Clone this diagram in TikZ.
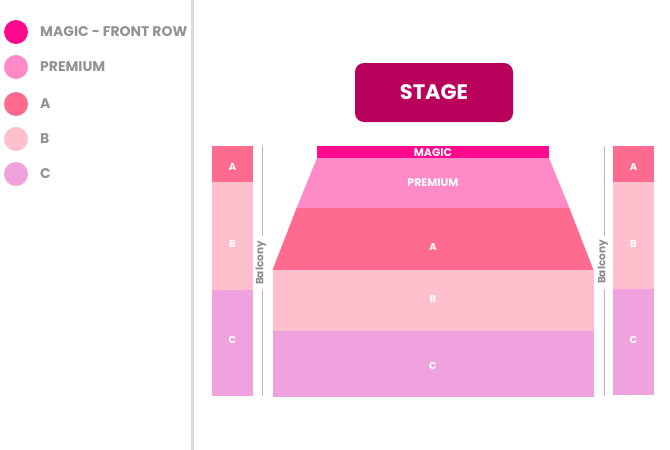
\documentclass[tikz,border=0pt]{standalone}
\usepackage{fontspec}
\setmainfont{Poppins}
\begin{document}
\begin{tikzpicture}[x=1pt,y=-1pt,
  legtxt/.style={anchor=west,text=gray!85,font=\fontsize{14}{14}\selectfont\bfseries,inner sep=0},
  dot/.style={circle,minimum size=24pt,inner sep=0},
  seatlbl/.style={text=white,font=\fontsize{10}{10}\selectfont\bfseries,inner sep=0},
  biglbl/.style={text=white,font=\fontsize{11}{11}\selectfont\bfseries,inner sep=0},
  balc/.style={text=gray!90,font=\fontsize{10.5}{10.5}\selectfont\bfseries,rotate=90,inner sep=0},
  balcline/.style={draw=gray!55,line width=1pt}]
\definecolor{cmagic}{HTML}{FF0A8F}
\definecolor{cprem}{HTML}{FF8AC8}
\definecolor{ca}{HTML}{FF6B8E}
\definecolor{cb}{HTML}{FFBFCC}
\definecolor{cc}{HTML}{F0A2DE}
\definecolor{cstage}{HTML}{B9005B}
\useasboundingbox (0,0) rectangle (670,450);
\fill[white] (0,0) rectangle (670,450);
% divider
\draw[gray!30,line width=3pt] (192,0) -- (192,450);
% legend
\node[dot,fill=cmagic] (l1) at (16,32) {};
\node[legtxt] (t1) at (40,32) {MAGIC - FRONT ROW};
\node[dot,fill=cprem] (l2) at (16,67) {};
\node[legtxt] (t2) at (40,67) {PREMIUM};
\node[dot,fill=ca] (l3) at (16,104) {};
\node[legtxt] (t3) at (40,104) {A};
\node[dot,fill=cb] (l4) at (16,139) {};
\node[legtxt] (t4) at (40,139) {B};
\node[dot,fill=cc] (l5) at (16,174) {};
\node[legtxt] (t5) at (40,174) {C};
% stage
\node[fill=cstage,rounded corners=9pt,minimum width=158pt,minimum height=59pt,text=white,font=\fontsize{21}{21}\selectfont\bfseries] (stage) at (434,92.5) {STAGE};
% main floor
\fill[cmagic] (317,146) rectangle (549,158);
\node[biglbl] (magic) at (433,152.5) {MAGIC};
\fill[cprem] (317,158) -- (549,158) -- (569.4,208) -- (296.6,208) -- cycle;
\node[biglbl] (prem) at (433,183) {PREMIUM};
\fill[ca] (296.6,208) -- (569.4,208) -- (593.5,270) -- (272.5,270) -- cycle;
\node[seatlbl] (fa) at (433,247) {A};
\fill[cb] (272.5,270) rectangle (593.5,331);
\node[seatlbl] (fb) at (433,299) {B};
\fill[cc] (272.5,331) rectangle (593.5,397);
\node[seatlbl] (fc) at (433,366) {C};
% left balcony
\fill[ca] (212,146) rectangle (253,182);
\node[seatlbl] (la) at (232.5,167) {A};
\fill[cb] (212,182) rectangle (253,290);
\node[seatlbl] (lb) at (232.5,244) {B};
\fill[cc] (212,290) rectangle (253,396);
\node[seatlbl] (lc) at (232.5,340) {C};
\node[balc] (lbal) at (261,263) {Balcony};
\draw[balcline] (262,146) -- (262,236);
\draw[balcline] (262,290) -- (262,396);
% right balcony
\fill[ca] (613,146) rectangle (654,182);
\node[seatlbl] (ra) at (633.5,167) {A};
\fill[cb] (613,182) rectangle (654,289);
\node[seatlbl] (rb) at (633.5,244) {B};
\fill[cc] (613,289) rectangle (654,395);
\node[seatlbl] (rc) at (633.5,340) {C};
\node[balc] (rbal) at (603,262) {Balcony};
\draw[balcline] (604,146) -- (604,236);
\draw[balcline] (604,289) -- (604,396);
\end{tikzpicture}
\end{document}
